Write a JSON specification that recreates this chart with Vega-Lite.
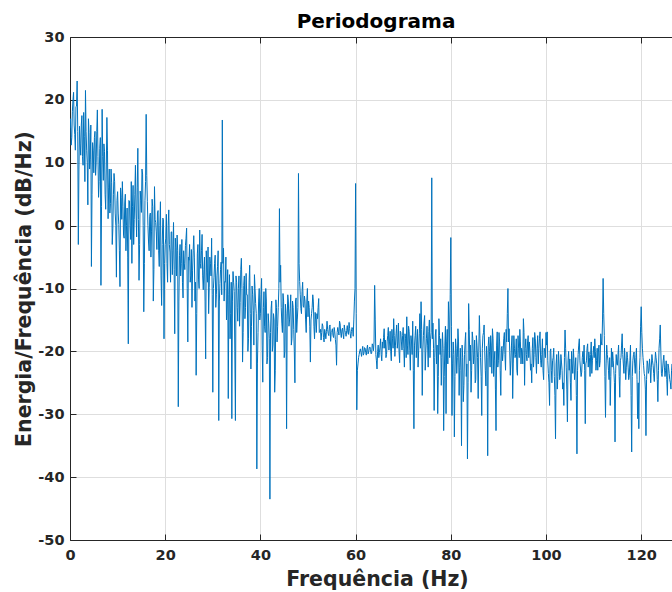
{
"$schema": "https://vega.github.io/schema/vega-lite/v6.json",
"width": 602, "height": 503,
"autosize": {"type": "none"},
"padding": {"left": 70, "top": 37, "right": 0, "bottom": 52},
"background": "white",
"config": {
  "view": {"stroke": null},
  "axis": {"domainColor": "#262626", "domainWidth": 1, "tickColor": "#262626", "tickSize": -6, "tickWidth": 1,
    "labelColor": "#262626", "labelFont": "DejaVu Sans", "labelFontSize": 14.5, "labelFontWeight": "bold", "labelFlush": false,
    "labelExpr": "replace(datum.label, '\u2212', '-')",
    "titleColor": "#262626", "titleFont": "DejaVu Sans", "titleFontSize": 20.5, "titleFontWeight": "bold",
    "gridColor": "#dedede", "gridWidth": 1}
},
"title": {"text": "Periodograma", "font": "DejaVu Sans", "fontSize": 20, "fontWeight": "bold", "color": "#000000", "anchor": "middle", "frame": "group", "offset": -3, "dx": 5},
"data": {"values": [
{"freq":0,"db":15.5},{"freq":0.25,"db":12.8},{"freq":0.5,"db":18.2},{"freq":0.75,"db":21.2},{"freq":1,"db":14.5},{"freq":1.25,"db":18.9},{"freq":1.5,"db":23},{"freq":1.75,"db":-3},
{"freq":2,"db":15.8},{"freq":2.25,"db":11.2},{"freq":2.5,"db":17.5},{"freq":2.75,"db":9.6},{"freq":3,"db":14.2},{"freq":3.25,"db":21.5},{"freq":3.5,"db":12},{"freq":3.75,"db":3.3},
{"freq":4,"db":14.8},{"freq":4.25,"db":10.5},{"freq":4.5,"db":-6.5},{"freq":4.75,"db":13.2},{"freq":5,"db":8.4},{"freq":5.25,"db":15},{"freq":5.5,"db":10.1},{"freq":5.75,"db":18.4},
{"freq":6,"db":4.5},{"freq":6.25,"db":12.3},{"freq":6.5,"db":-9.5},{"freq":6.75,"db":18.5},{"freq":7,"db":7.2},{"freq":7.25,"db":11.8},{"freq":7.5,"db":2.6},{"freq":7.75,"db":17.2},
{"freq":8,"db":1.1},{"freq":8.25,"db":9},{"freq":8.5,"db":3.5},{"freq":8.75,"db":6.8},{"freq":9,"db":-0.5},{"freq":9.25,"db":8.3},{"freq":9.5,"db":2},{"freq":9.75,"db":-8.2},
{"freq":10,"db":5.4},{"freq":10.25,"db":0.2},{"freq":10.5,"db":-9.7},{"freq":10.75,"db":4.5},{"freq":11,"db":7},{"freq":11.25,"db":-1.5},{"freq":11.5,"db":3.6},{"freq":11.75,"db":-4},
{"freq":12,"db":2.8},{"freq":12.25,"db":-18.8},{"freq":12.5,"db":3.9},{"freq":12.75,"db":-2.2},{"freq":13,"db":-6},{"freq":13.25,"db":6.4},{"freq":13.5,"db":1},{"freq":13.75,"db":9.6},
{"freq":14,"db":-1.8},{"freq":14.25,"db":12.3},{"freq":14.5,"db":-8.7},{"freq":14.75,"db":5.5},{"freq":15,"db":2.1},{"freq":15.25,"db":8.2},{"freq":15.5,"db":-13.7},{"freq":15.75,"db":4},
{"freq":16,"db":17.7},{"freq":16.25,"db":3.8},{"freq":16.5,"db":-2.6},{"freq":16.75,"db":1.5},{"freq":17,"db":-5},{"freq":17.25,"db":4.2},{"freq":17.5,"db":-12},{"freq":17.75,"db":6.2},
{"freq":18,"db":0.5},{"freq":18.25,"db":-3.8},{"freq":18.5,"db":2.4},{"freq":18.75,"db":-6.5},{"freq":19,"db":3.8},{"freq":19.25,"db":-12.7},{"freq":19.5,"db":1.2},{"freq":19.75,"db":-18},
{"freq":20,"db":-3},{"freq":20.25,"db":1.8},{"freq":20.5,"db":-9},{"freq":20.75,"db":2.5},{"freq":21,"db":-4.2},{"freq":21.25,"db":-1},{"freq":21.5,"db":-7.8},{"freq":21.75,"db":0.5},
{"freq":22,"db":-17.2},{"freq":22.25,"db":-3.5},{"freq":22.5,"db":-1.5},{"freq":22.75,"db":-28.8},{"freq":23,"db":-4.8},{"freq":23.25,"db":-8},{"freq":23.5,"db":-2.2},{"freq":23.75,"db":-11.5},
{"freq":24,"db":-6},{"freq":24.25,"db":-3.2},{"freq":24.5,"db":-0.4},{"freq":24.75,"db":-18.5},{"freq":25,"db":-5.5},{"freq":25.25,"db":-9},{"freq":25.5,"db":-3.8},{"freq":25.75,"db":-7.2},
{"freq":26,"db":-1.6},{"freq":26.25,"db":-12},{"freq":26.5,"db":-23.8},{"freq":26.75,"db":-4.5},{"freq":27,"db":-8.5},{"freq":27.25,"db":-0.7},{"freq":27.5,"db":-6.8},{"freq":27.75,"db":-1.4},
{"freq":28,"db":-10.2},{"freq":28.25,"db":-5},{"freq":28.5,"db":-21.2},{"freq":28.75,"db":-7.5},{"freq":29,"db":-3.4},{"freq":29.25,"db":-9.8},{"freq":29.5,"db":-6},{"freq":29.75,"db":-2},
{"freq":30,"db":-26.5},{"freq":30.25,"db":-8.2},{"freq":30.5,"db":-4.7},{"freq":30.75,"db":-11},{"freq":31,"db":-6.5},{"freq":31.25,"db":-31},{"freq":31.5,"db":-9.2},{"freq":31.75,"db":-5.8},
{"freq":32,"db":16.8},{"freq":32.25,"db":-3.6},{"freq":32.5,"db":-8.9},{"freq":32.75,"db":-5},{"freq":33,"db":-12.5},{"freq":33.25,"db":-27.5},{"freq":33.5,"db":-7.8},{"freq":33.75,"db":-14},
{"freq":34,"db":-30.7},{"freq":34.25,"db":-7.3},{"freq":34.5,"db":-10.5},{"freq":34.75,"db":-31},{"freq":35,"db":-9},{"freq":35.25,"db":-15.2},{"freq":35.5,"db":-8},{"freq":35.75,"db":-12.2},
{"freq":36,"db":-5.2},{"freq":36.25,"db":-21.7},{"freq":36.5,"db":-9.5},{"freq":36.75,"db":-14.8},{"freq":37,"db":-7.6},{"freq":37.25,"db":-11},{"freq":37.5,"db":-18},{"freq":37.75,"db":-6.3},
{"freq":38,"db":-22.8},{"freq":38.25,"db":-9.6},{"freq":38.5,"db":-13.5},{"freq":38.75,"db":-7.8},{"freq":39,"db":-12.4},{"freq":39.25,"db":-38.7},{"freq":39.5,"db":-17},{"freq":39.75,"db":-10},
{"freq":40,"db":-14},{"freq":40.25,"db":-8.4},{"freq":40.5,"db":-24.9},{"freq":40.75,"db":-10.5},{"freq":41,"db":-17},{"freq":41.25,"db":-12},{"freq":41.5,"db":-21},{"freq":41.75,"db":-15.5},
{"freq":42,"db":-43.5},{"freq":42.25,"db":-13.2},{"freq":42.5,"db":-20},{"freq":42.75,"db":-14},{"freq":43,"db":-26.5},{"freq":43.25,"db":-11.8},{"freq":43.5,"db":-18.5},{"freq":43.75,"db":-13},
{"freq":44,"db":2.7},{"freq":44.25,"db":-6.3},{"freq":44.5,"db":-15.5},{"freq":44.75,"db":-10.8},{"freq":45,"db":-21},{"freq":45.25,"db":-12.5},{"freq":45.5,"db":-32.3},{"freq":45.75,"db":-11},
{"freq":46,"db":-16},{"freq":46.25,"db":-13.2},{"freq":46.5,"db":-19},{"freq":46.75,"db":-12},{"freq":47,"db":-16.5},{"freq":47.25,"db":-25},{"freq":47.5,"db":-11.5},{"freq":47.75,"db":-15},
{"freq":48,"db":8.3},{"freq":48.25,"db":-8.9},{"freq":48.5,"db":-13.2},{"freq":48.75,"db":-10.5},{"freq":49,"db":-12.8},{"freq":49.25,"db":-11.2},{"freq":49.5,"db":-15},{"freq":49.75,"db":-12},
{"freq":50,"db":-14.5},{"freq":50.25,"db":-13},{"freq":50.5,"db":-21.7},{"freq":50.75,"db":-14},{"freq":51,"db":-11},{"freq":51.25,"db":-16},{"freq":51.5,"db":-13.8},{"freq":51.75,"db":-17},
{"freq":52,"db":-14.8},{"freq":52.25,"db":-11.6},{"freq":52.5,"db":-16.9},{"freq":52.75,"db":-18.2},{"freq":53,"db":-15.6},{"freq":53.25,"db":-17.8},{"freq":53.5,"db":-16.5},{"freq":53.75,"db":-18},
{"freq":54,"db":-15.2},{"freq":54.25,"db":-17.2},{"freq":54.5,"db":-16},{"freq":54.75,"db":-18.4},{"freq":55,"db":-16.8},{"freq":55.25,"db":-17.5},{"freq":55.5,"db":-16.2},{"freq":55.75,"db":-18.1},
{"freq":56,"db":-22.2},{"freq":56.25,"db":-16.2},{"freq":56.5,"db":-17.4},{"freq":56.75,"db":-15.6},{"freq":57,"db":-17.8},{"freq":57.25,"db":-16.3},{"freq":57.5,"db":-18},{"freq":57.75,"db":-16.7},
{"freq":58,"db":-17.6},{"freq":58.25,"db":-15.9},{"freq":58.5,"db":-17.3},{"freq":58.75,"db":-16.4},{"freq":59,"db":-17.9},{"freq":59.25,"db":-16.2},{"freq":59.5,"db":-17.6},{"freq":59.75,"db":-12},
{"freq":60,"db":6.7},{"freq":60.25,"db":-29.3},{"freq":60.5,"db":-22},{"freq":60.75,"db":-20.5},{"freq":61,"db":-19.6},{"freq":61.25,"db":-20.8},{"freq":61.5,"db":-19.2},{"freq":61.75,"db":-20.3},
{"freq":62,"db":-19.5},{"freq":62.25,"db":-20.6},{"freq":62.5,"db":-19},{"freq":62.75,"db":-20.1},{"freq":63,"db":-19.3},{"freq":63.25,"db":-20.4},{"freq":63.5,"db":-18.8},{"freq":63.75,"db":-19.9},
{"freq":64,"db":-9.5},{"freq":64.25,"db":-20.5},{"freq":64.5,"db":-22.8},{"freq":64.75,"db":-19},{"freq":65,"db":-20.2},{"freq":65.25,"db":-18},{"freq":65.5,"db":-21.5},{"freq":65.75,"db":-19.5},
{"freq":66,"db":-16.4},{"freq":66.25,"db":-18.2},{"freq":66.5,"db":-20.5},{"freq":66.75,"db":-17.5},{"freq":67,"db":-19.8},{"freq":67.25,"db":-16.8},{"freq":67.5,"db":-21.5},{"freq":67.75,"db":-18},
{"freq":68,"db":-14.8},{"freq":68.25,"db":-20.8},{"freq":68.5,"db":-17.2},{"freq":68.75,"db":-19.5},{"freq":69,"db":-15.5},{"freq":69.25,"db":-21.8},{"freq":69.5,"db":-17},{"freq":69.75,"db":-19.8},
{"freq":70,"db":-16.2},{"freq":70.25,"db":-22.5},{"freq":70.5,"db":-18},{"freq":70.75,"db":-14.5},{"freq":71,"db":-20.5},{"freq":71.25,"db":-16.8},{"freq":71.5,"db":-23},{"freq":71.75,"db":-18.5},
{"freq":72,"db":-15.2},{"freq":72.25,"db":-32.3},{"freq":72.5,"db":-17.5},{"freq":72.75,"db":-21},{"freq":73,"db":-16.5},{"freq":73.25,"db":-19.8},{"freq":73.5,"db":-14},{"freq":73.75,"db":-12.1},
{"freq":74,"db":-27},{"freq":74.25,"db":-17.5},{"freq":74.5,"db":-14.3},{"freq":74.75,"db":-20},{"freq":75,"db":-16},{"freq":75.25,"db":-22.5},{"freq":75.5,"db":-15},{"freq":75.75,"db":-18},
{"freq":76,"db":7.6},{"freq":76.25,"db":-15.5},{"freq":76.5,"db":-29.4},{"freq":76.75,"db":-17.4},{"freq":77,"db":-22},{"freq":77.25,"db":-29.9},{"freq":77.5,"db":-14.8},{"freq":77.75,"db":-20.5},
{"freq":78,"db":-25.4},{"freq":78.25,"db":-17},{"freq":78.5,"db":-32.6},{"freq":78.75,"db":-19},{"freq":79,"db":-29.9},{"freq":79.25,"db":-16.5},{"freq":79.5,"db":-12.1},{"freq":79.75,"db":-21},
{"freq":80,"db":-1.9},{"freq":80.25,"db":-30.2},{"freq":80.5,"db":-18.5},{"freq":80.75,"db":-33.6},{"freq":81,"db":-18},{"freq":81.25,"db":-23.5},{"freq":81.5,"db":-16.4},{"freq":81.75,"db":-27},
{"freq":82,"db":-19.5},{"freq":82.25,"db":-35},{"freq":82.5,"db":-21},{"freq":82.75,"db":-25.4},{"freq":83,"db":-18.5},{"freq":83.25,"db":-24},{"freq":83.5,"db":-37.1},{"freq":83.75,"db":-12.4},
{"freq":84,"db":-21.5},{"freq":84.25,"db":-26.5},{"freq":84.5,"db":-16.9},{"freq":84.75,"db":-22},{"freq":85,"db":-18.2},{"freq":85.25,"db":-24.5},{"freq":85.5,"db":-19},{"freq":85.75,"db":-27.5},
{"freq":86,"db":-14.3},{"freq":86.25,"db":-21},{"freq":86.5,"db":-30.2},{"freq":86.75,"db":-17.5},{"freq":87,"db":-15.8},{"freq":87.25,"db":-23},{"freq":87.5,"db":-19.2},{"freq":87.75,"db":-36.6},
{"freq":88,"db":-17.7},{"freq":88.25,"db":-22.5},{"freq":88.5,"db":-19},{"freq":88.75,"db":-16.4},{"freq":89,"db":-24},{"freq":89.25,"db":-20},{"freq":89.5,"db":-32.6},{"freq":89.75,"db":-16.9},
{"freq":90,"db":-21.5},{"freq":90.25,"db":-18.5},{"freq":90.5,"db":-27},{"freq":90.75,"db":-19.2},{"freq":91,"db":-20},{"freq":91.25,"db":-17},{"freq":91.5,"db":-23},{"freq":91.75,"db":-18.5},
{"freq":92,"db":-10},{"freq":92.25,"db":-16.4},{"freq":92.5,"db":-23.8},{"freq":92.75,"db":-19},{"freq":93,"db":-27.5},{"freq":93.25,"db":-17.5},{"freq":93.5,"db":-21},{"freq":93.75,"db":-18},
{"freq":94,"db":-23.8},{"freq":94.25,"db":-19.5},{"freq":94.5,"db":-16.5},{"freq":94.75,"db":-22},{"freq":95,"db":-20},{"freq":95.25,"db":-14.8},{"freq":95.5,"db":-25.4},{"freq":95.75,"db":-18},
{"freq":96,"db":-21.5},{"freq":96.25,"db":-17.5},{"freq":96.5,"db":-18.5},{"freq":96.75,"db":-23},{"freq":97,"db":-25},{"freq":97.25,"db":-17.8},{"freq":97.5,"db":-20.5},{"freq":97.75,"db":-18},
{"freq":98,"db":-23.5},{"freq":98.25,"db":-17.5},{"freq":98.5,"db":-19.5},{"freq":98.75,"db":-16.9},{"freq":99,"db":-22.5},{"freq":99.25,"db":-18},{"freq":99.5,"db":-24.5},{"freq":99.75,"db":-20},
{"freq":100,"db":-17},{"freq":100.25,"db":-16.9},{"freq":100.5,"db":-23.5},{"freq":100.75,"db":-28.6},{"freq":101,"db":-19.6},{"freq":101.25,"db":-25},{"freq":101.5,"db":-21},{"freq":101.75,"db":-24},
{"freq":102,"db":-33.9},{"freq":102.25,"db":-20.5},{"freq":102.5,"db":-24},{"freq":102.75,"db":-22},{"freq":103,"db":-23.8},{"freq":103.25,"db":-21.7},{"freq":103.5,"db":-26},{"freq":103.75,"db":-28.6},
{"freq":104,"db":-16.6},{"freq":104.25,"db":-22.5},{"freq":104.5,"db":-31.2},{"freq":104.75,"db":-20},{"freq":105,"db":-21.2},{"freq":105.25,"db":-27.8},{"freq":105.5,"db":-22},{"freq":105.75,"db":-19.6},
{"freq":106,"db":-24.5},{"freq":106.25,"db":-21},{"freq":106.5,"db":-36.3},{"freq":106.75,"db":-20.5},{"freq":107,"db":-18},{"freq":107.25,"db":-22.8},{"freq":107.5,"db":-23.3},{"freq":107.75,"db":-20},
{"freq":108,"db":-19},{"freq":108.25,"db":-31.5},{"freq":108.5,"db":-21.5},{"freq":108.75,"db":-18.8},{"freq":109,"db":-20.1},{"freq":109.25,"db":-24},{"freq":109.5,"db":-18.5},{"freq":109.75,"db":-21.5},
{"freq":110,"db":-19.2},{"freq":110.25,"db":-18},{"freq":110.5,"db":-23},{"freq":110.75,"db":-19.5},{"freq":111,"db":-20.1},{"freq":111.25,"db":-22.5},{"freq":111.5,"db":-17.2},{"freq":111.75,"db":-19},
{"freq":112,"db":-8.4},{"freq":112.25,"db":-17.5},{"freq":112.5,"db":-30.5},{"freq":112.75,"db":-19},{"freq":113,"db":-21.4},{"freq":113.25,"db":-24.5},{"freq":113.5,"db":-28.6},{"freq":113.75,"db":-19.5},
{"freq":114,"db":-20.1},{"freq":114.25,"db":-23},{"freq":114.5,"db":-34.4},{"freq":114.75,"db":-20.5},{"freq":115,"db":-22.2},{"freq":115.25,"db":-19},{"freq":115.5,"db":-27.3},{"freq":115.75,"db":-21},
{"freq":116,"db":-17.2},{"freq":116.25,"db":-22},{"freq":116.5,"db":-19.5},{"freq":116.75,"db":-24.5},{"freq":117,"db":-20.1},{"freq":117.25,"db":-22.5},{"freq":117.5,"db":-23.8},{"freq":117.75,"db":-19},
{"freq":118,"db":-36},{"freq":118.25,"db":-21.5},{"freq":118.5,"db":-20.1},{"freq":118.75,"db":-23.5},{"freq":119,"db":-19.5},{"freq":119.25,"db":-30.7},{"freq":119.5,"db":-32.3},{"freq":119.75,"db":-21},
{"freq":120,"db":-12.9},{"freq":120.25,"db":-19.5},{"freq":120.5,"db":-22.2},{"freq":120.75,"db":-24},{"freq":121,"db":-33.4},{"freq":121.25,"db":-21.5},{"freq":121.5,"db":-23.5},{"freq":121.75,"db":-21.2},
{"freq":122,"db":-25},{"freq":122.25,"db":-20.5},{"freq":122.5,"db":-22.2},{"freq":122.75,"db":-24.8},{"freq":123,"db":-20.1},{"freq":123.25,"db":-22},{"freq":123.5,"db":-28},{"freq":123.75,"db":-19.5},
{"freq":124,"db":-15.8},{"freq":124.25,"db":-23.5},{"freq":124.5,"db":-22.8},{"freq":124.75,"db":-20.6},{"freq":125,"db":-24},{"freq":125.25,"db":-21.5},{"freq":125.5,"db":-27},{"freq":125.75,"db":-22.5},
{"freq":126,"db":-24.5},{"freq":126.25,"db":-26},{"freq":126.5,"db":-22},{"freq":126.75,"db":-25.5},{"freq":127,"db":-23},{"freq":127.25,"db":-27.5},{"freq":127.5,"db":-24},{"freq":127.75,"db":-22.5},
{"freq":128,"db":-25},
{"freq":0.125,"db":17},{"freq":0.375,"db":14},{"freq":0.625,"db":20},{"freq":0.875,"db":16},{"freq":1.125,"db":12},{"freq":1.375,"db":19},{"freq":1.625,"db":15},{"freq":1.875,"db":9},
{"freq":2.125,"db":13},{"freq":2.375,"db":16},{"freq":2.625,"db":11},{"freq":2.875,"db":18},{"freq":3.125,"db":7},{"freq":3.375,"db":15},{"freq":3.625,"db":10},{"freq":3.875,"db":17},
{"freq":4.125,"db":9},{"freq":4.375,"db":16},{"freq":4.625,"db":5},{"freq":4.875,"db":12},{"freq":5.125,"db":14},{"freq":5.375,"db":8},{"freq":5.625,"db":15},{"freq":5.875,"db":11},
{"freq":6.125,"db":7},{"freq":6.375,"db":14},{"freq":6.625,"db":3},{"freq":6.875,"db":11},{"freq":7.125,"db":13},{"freq":7.375,"db":5},{"freq":7.625,"db":9},{"freq":7.875,"db":12},
{"freq":8.125,"db":6},{"freq":8.375,"db":2},{"freq":8.625,"db":9},{"freq":8.875,"db":-3},{"freq":9.125,"db":5},{"freq":9.375,"db":7},{"freq":9.625,"db":0},{"freq":9.875,"db":4},
{"freq":10.125,"db":2},{"freq":10.375,"db":-4},{"freq":10.625,"db":6},{"freq":10.875,"db":1},{"freq":11.125,"db":3},{"freq":11.375,"db":-2},{"freq":11.625,"db":5},{"freq":11.875,"db":0},
{"freq":12.125,"db":-5},{"freq":12.375,"db":4},{"freq":12.625,"db":0},{"freq":12.875,"db":7},{"freq":13.125,"db":3},{"freq":13.375,"db":-3},{"freq":13.625,"db":5},{"freq":13.875,"db":2},
{"freq":14.125,"db":6},{"freq":14.375,"db":1},{"freq":14.625,"db":-3},{"freq":14.875,"db":4},{"freq":15.125,"db":9},{"freq":15.375,"db":0},{"freq":15.625,"db":-6},{"freq":15.875,"db":7},
{"freq":16.125,"db":8},{"freq":16.375,"db":0},{"freq":16.625,"db":-4},{"freq":16.875,"db":2},{"freq":17.125,"db":-1},{"freq":17.375,"db":3},{"freq":17.625,"db":-7},{"freq":17.875,"db":1},
{"freq":18.125,"db":-1},{"freq":18.375,"db":2},{"freq":18.625,"db":-4},{"freq":18.875,"db":0},{"freq":19.125,"db":-8},{"freq":19.375,"db":-3},{"freq":19.625,"db":1},{"freq":19.875,"db":-6},
{"freq":20.125,"db":-2},{"freq":20.375,"db":-6},{"freq":20.625,"db":0},{"freq":20.875,"db":-3},{"freq":21.125,"db":-9},{"freq":21.375,"db":-1},{"freq":21.625,"db":-4},{"freq":21.875,"db":-7},
{"freq":22.125,"db":-2},{"freq":22.375,"db":-8},{"freq":22.625,"db":-4},{"freq":22.875,"db":-12},{"freq":23.125,"db":-3},{"freq":23.375,"db":-6},{"freq":23.625,"db":-9},{"freq":23.875,"db":-4},
{"freq":24.125,"db":-7},{"freq":24.375,"db":-2},{"freq":24.625,"db":-10},{"freq":24.875,"db":-5},{"freq":25.125,"db":-3},{"freq":25.375,"db":-8},{"freq":25.625,"db":-13},{"freq":25.875,"db":-4},
{"freq":26.125,"db":-5},{"freq":26.375,"db":-9},{"freq":26.625,"db":-14},{"freq":26.875,"db":-3},{"freq":27.125,"db":-10},{"freq":27.375,"db":-6},{"freq":27.625,"db":-4},{"freq":27.875,"db":-8},
{"freq":28.125,"db":-7},{"freq":28.375,"db":-12},{"freq":28.625,"db":-4},{"freq":28.875,"db":-9},{"freq":29.125,"db":-14},{"freq":29.375,"db":-5},{"freq":29.625,"db":-8},{"freq":29.875,"db":-11},
{"freq":30.125,"db":-10},{"freq":30.375,"db":-6},{"freq":30.625,"db":-13},{"freq":30.875,"db":-8},{"freq":31.125,"db":-4},{"freq":31.375,"db":-12},{"freq":31.625,"db":-7},{"freq":31.875,"db":-11},
{"freq":32.125,"db":-6},{"freq":32.375,"db":-12},{"freq":32.625,"db":-9},{"freq":32.875,"db":-15},{"freq":33.125,"db":-7},{"freq":33.375,"db":-11},{"freq":33.625,"db":-18},{"freq":33.875,"db":-9},
{"freq":34.125,"db":-12},{"freq":34.375,"db":-9},{"freq":34.625,"db":-20},{"freq":34.875,"db":-8},{"freq":35.125,"db":-13},{"freq":35.375,"db":-10},{"freq":35.625,"db":-16},{"freq":35.875,"db":-7},
{"freq":36.125,"db":-10},{"freq":36.375,"db":-17},{"freq":36.625,"db":-8},{"freq":36.875,"db":-13},{"freq":37.125,"db":-11},{"freq":37.375,"db":-20},{"freq":37.625,"db":-9},{"freq":37.875,"db":-14},
{"freq":38.125,"db":-16},{"freq":38.375,"db":-11},{"freq":38.625,"db":-19},{"freq":38.875,"db":-10},{"freq":39.125,"db":-14},{"freq":39.375,"db":-22},{"freq":39.625,"db":-12},{"freq":39.875,"db":-15},
{"freq":40.125,"db":-11},{"freq":40.375,"db":-19},{"freq":40.625,"db":-13},{"freq":40.875,"db":-16},{"freq":41.125,"db":-10},{"freq":41.375,"db":-22},{"freq":41.625,"db":-14},{"freq":41.875,"db":-18},
{"freq":42.125,"db":-17},{"freq":42.375,"db":-12},{"freq":42.625,"db":-19},{"freq":42.875,"db":-15},{"freq":43.125,"db":-23},{"freq":43.375,"db":-13},{"freq":43.625,"db":-16},{"freq":43.875,"db":-10},
{"freq":44.125,"db":-9},{"freq":44.375,"db":-13},{"freq":44.625,"db":-17},{"freq":44.875,"db":-12},{"freq":45.125,"db":-20},{"freq":45.375,"db":-14},{"freq":45.625,"db":-15},{"freq":45.875,"db":-12},
{"freq":46.125,"db":-15},{"freq":46.375,"db":-11},{"freq":46.625,"db":-18},{"freq":46.875,"db":-13},{"freq":47.125,"db":-20},{"freq":47.375,"db":-12},{"freq":47.625,"db":-17},{"freq":47.875,"db":-13},
{"freq":48.125,"db":-6},{"freq":48.375,"db":-11},{"freq":48.625,"db":-14},{"freq":48.875,"db":-9},{"freq":49.125,"db":-13},{"freq":49.375,"db":-12},{"freq":49.625,"db":-17},{"freq":49.875,"db":-10},
{"freq":50.125,"db":-12},{"freq":50.375,"db":-16},{"freq":50.625,"db":-15},{"freq":50.875,"db":-13},{"freq":51.125,"db":-12},{"freq":51.375,"db":-18},{"freq":51.625,"db":-15},{"freq":51.875,"db":-14},
{"freq":52.125,"db":-13},{"freq":52.375,"db":-17},{"freq":52.625,"db":-16.5},{"freq":52.875,"db":-17},{"freq":53.125,"db":-16},{"freq":53.375,"db":-18.5},{"freq":53.625,"db":-17},{"freq":53.875,"db":-16.8},
{"freq":54.125,"db":-16.5},{"freq":54.375,"db":-17.5},{"freq":54.625,"db":-15.8},{"freq":54.875,"db":-17},{"freq":55.125,"db":-16.4},{"freq":55.375,"db":-17.8},{"freq":55.625,"db":-16.9},{"freq":55.875,"db":-19},
{"freq":56.125,"db":-17},{"freq":56.375,"db":-16.8},{"freq":56.625,"db":-15.2},{"freq":56.875,"db":-17.1},{"freq":57.125,"db":-16.6},{"freq":57.375,"db":-17.3},{"freq":57.625,"db":-15.8},{"freq":57.875,"db":-17},
{"freq":58.125,"db":-16.7},{"freq":58.375,"db":-17},{"freq":58.625,"db":-15.4},{"freq":58.875,"db":-17.2},{"freq":59.125,"db":-16.8},{"freq":59.375,"db":-16.5},{"freq":59.625,"db":-15},{"freq":59.875,"db":-10},
{"freq":60.125,"db":-14},{"freq":60.375,"db":-23},{"freq":60.625,"db":-21},{"freq":60.875,"db":-19.9},{"freq":61.125,"db":-20.2},{"freq":61.375,"db":-19.8},{"freq":61.625,"db":-20.6},{"freq":61.875,"db":-19.4},
{"freq":62.125,"db":-20.2},{"freq":62.375,"db":-19.6},{"freq":62.625,"db":-20.4},{"freq":62.875,"db":-19.5},{"freq":63.125,"db":-19.7},{"freq":63.375,"db":-20.3},{"freq":63.625,"db":-19.1},{"freq":63.875,"db":-18.5},
{"freq":64.125,"db":-15},{"freq":64.375,"db":-21.5},{"freq":64.625,"db":-20},{"freq":64.875,"db":-21},{"freq":65.125,"db":-19.3},{"freq":65.375,"db":-20.5},{"freq":65.625,"db":-18.5},{"freq":65.875,"db":-17.8},
{"freq":66.125,"db":-19.5},{"freq":66.375,"db":-21},{"freq":66.625,"db":-18.5},{"freq":66.875,"db":-16.2},{"freq":67.125,"db":-18.5},{"freq":67.375,"db":-20},{"freq":67.625,"db":-16.5},{"freq":67.875,"db":-19.5},
{"freq":68.125,"db":-17.5},{"freq":68.375,"db":-19},{"freq":68.625,"db":-15.8},{"freq":68.875,"db":-18.5},{"freq":69.125,"db":-20},{"freq":69.375,"db":-16.8},{"freq":69.625,"db":-18.5},{"freq":69.875,"db":-17.5},
{"freq":70.125,"db":-19.5},{"freq":70.375,"db":-17.2},{"freq":70.625,"db":-21},{"freq":70.875,"db":-19},{"freq":71.125,"db":-16},{"freq":71.375,"db":-19.8},{"freq":71.625,"db":-17.5},{"freq":71.875,"db":-20.5},
{"freq":72.125,"db":-23},{"freq":72.375,"db":-19},{"freq":72.625,"db":-16},{"freq":72.875,"db":-18.5},{"freq":73.125,"db":-22.5},{"freq":73.375,"db":-17.2},{"freq":73.625,"db":-19.5},{"freq":73.875,"db":-16.5},
{"freq":74.125,"db":-20},{"freq":74.375,"db":-15.5},{"freq":74.625,"db":-23},{"freq":74.875,"db":-18},{"freq":75.125,"db":-19},{"freq":75.375,"db":-16.8},{"freq":75.625,"db":-21},{"freq":75.875,"db":-17},
{"freq":76.125,"db":-18},{"freq":76.375,"db":-19.5},{"freq":76.625,"db":-21},{"freq":76.875,"db":-16.5},{"freq":77.125,"db":-19},{"freq":77.375,"db":-24},{"freq":77.625,"db":-17.5},{"freq":77.875,"db":-18},
{"freq":78.125,"db":-21},{"freq":78.375,"db":-19.5},{"freq":78.625,"db":-24},{"freq":78.875,"db":-16},{"freq":79.125,"db":-18.5},{"freq":79.375,"db":-22},{"freq":79.625,"db":-15},{"freq":79.875,"db":-11},
{"freq":80.125,"db":-16},{"freq":80.375,"db":-22},{"freq":80.625,"db":-20.5},{"freq":80.875,"db":-24},{"freq":81.125,"db":-19.5},{"freq":81.375,"db":-21},{"freq":81.625,"db":-18.5},{"freq":81.875,"db":-22.5},
{"freq":82.125,"db":-23},{"freq":82.375,"db":-19},{"freq":82.625,"db":-28},{"freq":82.875,"db":-20.5},{"freq":83.125,"db":-17},{"freq":83.375,"db":-22},{"freq":83.625,"db":-25},{"freq":83.875,"db":-16.5},
{"freq":84.125,"db":-19},{"freq":84.375,"db":-23},{"freq":84.625,"db":-18},{"freq":84.875,"db":-20.5},{"freq":85.125,"db":-25},{"freq":85.375,"db":-17.5},{"freq":85.625,"db":-21},{"freq":85.875,"db":-20},
{"freq":86.125,"db":-18},{"freq":86.375,"db":-24},{"freq":86.625,"db":-19.5},{"freq":86.875,"db":-17},{"freq":87.125,"db":-20},{"freq":87.375,"db":-25.5},{"freq":87.625,"db":-21},{"freq":87.875,"db":-19},
{"freq":88.125,"db":-20},{"freq":88.375,"db":-17.5},{"freq":88.625,"db":-23.5},{"freq":88.875,"db":-18},{"freq":89.125,"db":-21.5},{"freq":89.375,"db":-26},{"freq":89.625,"db":-19},{"freq":89.875,"db":-22.5},
{"freq":90.125,"db":-17},{"freq":90.375,"db":-23},{"freq":90.625,"db":-19.5},{"freq":90.875,"db":-21.5},{"freq":91.125,"db":-18},{"freq":91.375,"db":-20.5},{"freq":91.625,"db":-16.5},{"freq":91.875,"db":-14},
{"freq":92.125,"db":-18.5},{"freq":92.375,"db":-20},{"freq":92.625,"db":-21.5},{"freq":92.875,"db":-17.5},{"freq":93.125,"db":-22},{"freq":93.375,"db":-19.5},{"freq":93.625,"db":-20.5},{"freq":93.875,"db":-23},
{"freq":94.125,"db":-17.5},{"freq":94.375,"db":-21},{"freq":94.625,"db":-18.5},{"freq":94.875,"db":-19.5},{"freq":95.125,"db":-22},{"freq":95.375,"db":-17},{"freq":95.625,"db":-19.5},{"freq":95.875,"db":-20.5},
{"freq":96.125,"db":-18.5},{"freq":96.375,"db":-21},{"freq":96.625,"db":-20},{"freq":96.875,"db":-22},{"freq":97.125,"db":-19.5},{"freq":97.375,"db":-22.5},{"freq":97.625,"db":-17},{"freq":97.875,"db":-21},
{"freq":98.125,"db":-19.5},{"freq":98.375,"db":-22},{"freq":98.625,"db":-18},{"freq":98.875,"db":-21.5},{"freq":99.125,"db":-20.5},{"freq":99.375,"db":-23},{"freq":99.625,"db":-19.5},{"freq":99.875,"db":-21},
{"freq":100.125,"db":-19},{"freq":100.375,"db":-21.5},{"freq":100.625,"db":-25},{"freq":100.875,"db":-20},{"freq":101.125,"db":-23},{"freq":101.375,"db":-21.5},{"freq":101.625,"db":-19.5},{"freq":101.875,"db":-27},
{"freq":102.125,"db":-22},{"freq":102.375,"db":-26},{"freq":102.625,"db":-20},{"freq":102.875,"db":-24.5},{"freq":103.125,"db":-20.5},{"freq":103.375,"db":-23},{"freq":103.625,"db":-25},{"freq":103.875,"db":-21},
{"freq":104.125,"db":-19.5},{"freq":104.375,"db":-26},{"freq":104.625,"db":-21.5},{"freq":104.875,"db":-23},{"freq":105.125,"db":-25},{"freq":105.375,"db":-20},{"freq":105.625,"db":-23.5},{"freq":105.875,"db":-21.5},
{"freq":106.125,"db":-22.5},{"freq":106.375,"db":-27},{"freq":106.625,"db":-23},{"freq":106.875,"db":-19},{"freq":107.125,"db":-21.5},{"freq":107.375,"db":-24},{"freq":107.625,"db":-21},{"freq":107.875,"db":-22},
{"freq":108.125,"db":-23},{"freq":108.375,"db":-22},{"freq":108.625,"db":-19.5},{"freq":108.875,"db":-22.5},{"freq":109.125,"db":-21},{"freq":109.375,"db":-20.5},{"freq":109.625,"db":-23.5},{"freq":109.875,"db":-20.5},
{"freq":110.125,"db":-21},{"freq":110.375,"db":-20},{"freq":110.625,"db":-21.5},{"freq":110.875,"db":-23},{"freq":111.125,"db":-19},{"freq":111.375,"db":-21.5},{"freq":111.625,"db":-18.5},{"freq":111.875,"db":-15},
{"freq":112.125,"db":-14},{"freq":112.375,"db":-24},{"freq":112.625,"db":-22},{"freq":112.875,"db":-20.5},{"freq":113.125,"db":-23},{"freq":113.375,"db":-21},{"freq":113.625,"db":-24},{"freq":113.875,"db":-22.5},
{"freq":114.125,"db":-21.5},{"freq":114.375,"db":-25},{"freq":114.625,"db":-23.5},{"freq":114.875,"db":-22},{"freq":115.125,"db":-20.5},{"freq":115.375,"db":-24},{"freq":115.625,"db":-21.5},{"freq":115.875,"db":-19},
{"freq":116.125,"db":-20.5},{"freq":116.375,"db":-23.5},{"freq":116.625,"db":-21.5},{"freq":116.875,"db":-22.5},{"freq":117.125,"db":-21},{"freq":117.375,"db":-24.5},{"freq":117.625,"db":-21.5},{"freq":117.875,"db":-27},
{"freq":118.125,"db":-24},{"freq":118.375,"db":-20.5},{"freq":118.625,"db":-22},{"freq":118.875,"db":-21},{"freq":119.125,"db":-24.5},{"freq":119.375,"db":-25},{"freq":119.625,"db":-23},{"freq":119.875,"db":-16},
{"freq":120.125,"db":-17},{"freq":120.375,"db":-21},{"freq":120.625,"db":-23.5},{"freq":120.875,"db":-26},{"freq":121.125,"db":-24.5},{"freq":121.375,"db":-22},{"freq":121.625,"db":-23},{"freq":121.875,"db":-22.5},
{"freq":122.125,"db":-22.5},{"freq":122.375,"db":-21.5},{"freq":122.625,"db":-23.5},{"freq":122.875,"db":-22},{"freq":123.125,"db":-21},{"freq":123.375,"db":-24.5},{"freq":123.625,"db":-23},{"freq":123.875,"db":-18},
{"freq":124.125,"db":-20},{"freq":124.375,"db":-24},{"freq":124.625,"db":-21.5},{"freq":124.875,"db":-22.5},{"freq":125.125,"db":-23},{"freq":125.375,"db":-24.5},{"freq":125.625,"db":-22},{"freq":125.875,"db":-23.5},
{"freq":126.125,"db":-25},{"freq":126.375,"db":-23},{"freq":126.625,"db":-24},{"freq":126.875,"db":-24.5},{"freq":127.125,"db":-25.5},{"freq":127.375,"db":-23},{"freq":127.625,"db":-26},{"freq":127.875,"db":-23.5}
]},
"layer": [
  {"mark": {"type": "line", "color": "#0072BD", "strokeWidth": 1, "strokeJoin": "round", "clip": true},
   "encoding": {
     "x": {"field": "freq", "type": "quantitative", "scale": {"domain": [0, 126.47], "nice": false, "zero": false},
       "axis": {"orient": "bottom", "values": [0, 20, 40, 60, 80, 100, 120], "title": "Frequência (Hz)", "titleX": 307, "grid": true, "labelPadding": 14, "titlePadding": 8}},
     "y": {"field": "db", "type": "quantitative", "scale": {"domain": [-50, 30], "nice": false, "zero": false},
       "axis": {"values": [-50, -40, -30, -20, -10, 0, 10, 20, 30], "title": "Energia/Frequência (dB/Hz)", "grid": true, "labelPadding": 12, "titlePadding": 3}}
   }},
  {"mark": {"type": "point", "opacity": 0},
   "encoding": {
     "x": {"field": "freq", "type": "quantitative",
       "axis": {"orient": "top", "values": [0, 20, 40, 60, 80, 100, 120], "labels": false, "title": null, "grid": false}}
   }}
],
"resolve": {"axis": {"x": "independent"}}
}
